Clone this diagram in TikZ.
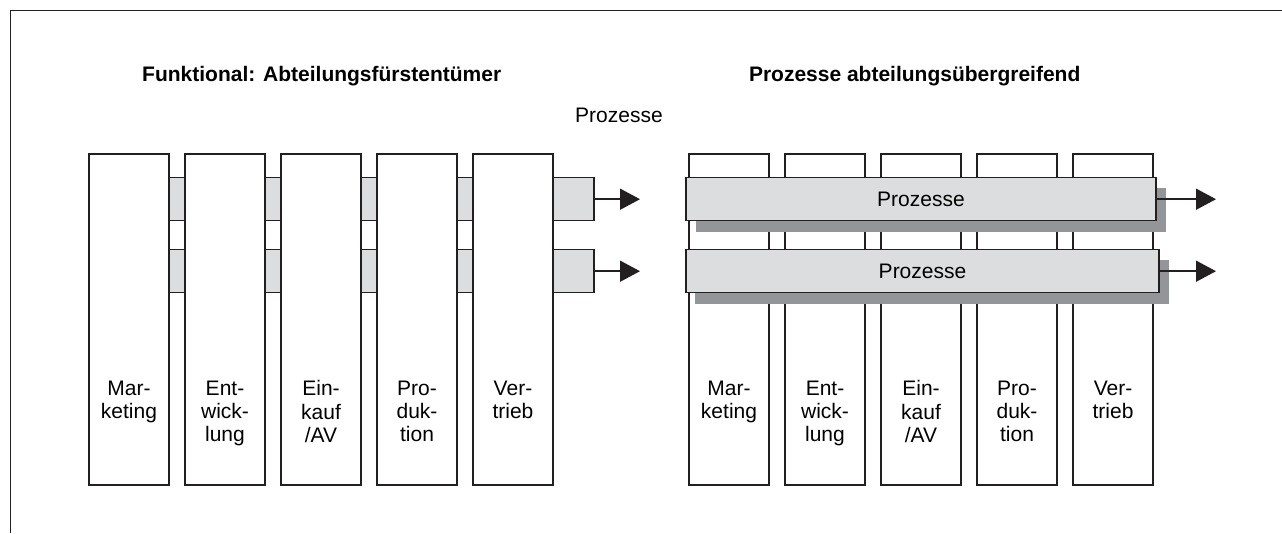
\documentclass[tikz,border=0pt]{standalone}
\usepackage{fontspec}
\setmainfont{Liberation Sans}
\usetikzlibrary{arrows.meta}
\definecolor{linedark}{RGB}{35,31,32}
\definecolor{barfill}{RGB}{220,221,223}
\definecolor{shadowgray}{RGB}{147,149,152}

\begin{document}
\begin{tikzpicture}[x=1pt,y=1pt,yscale=-1,xscale=1,
  dept/.style={draw=linedark, fill=white, line width=1.5pt, inner sep=0pt, minimum width=80pt, minimum height=331pt},
  deptlabel/.style={anchor=north, align=center, inner sep=0pt, font=\fontsize{21}{23.3}\selectfont},
  procbar/.style={draw=linedark, fill=barfill, line width=1.5pt, inner sep=0pt, minimum height=43pt, font=\fontsize{21}{25}\selectfont},
  flow/.style={draw=linedark, line width=1.5pt, -{Triangle[length=20pt,width=21pt]}},
  heading/.style={anchor=base, inner sep=0pt, font=\fontsize{21}{25}\selectfont\bfseries}]
\useasboundingbox (0,0) rectangle (1282,533);

%Frame
\draw [linedark, line width=1pt] (10.5,533) -- (10.5,10.5) -- (1282,10.5) ;

% Text Node
\node [heading] (hleft) at (321.7,81) {Funktional: Abteilungsfürstentümer};
% Text Node
\node [heading] (hright) at (914.7,81) {Prozesse abteilungsübergreifend};
% Text Node
\node [font=\fontsize{21}{25}\selectfont, inner sep=0pt] (hproc) at (619,115) {Prozesse};

%Left: process bars behind the departments
\node [procbar, minimum width=465pt] (lb1) at (361.5,199.2) {};
\node [procbar, minimum width=465pt] (lb2) at (361.5,271.2) {};
\coordinate (la1) at (640,199.2);
\coordinate (la2) at (640,271.2);
\draw [flow] (lb1.east) -- (la1) ;
\draw [flow] (lb2.east) -- (la2) ;

%Left: departments
\node [dept] (lm1) at (129,319.5) {};
\node [dept] (lm2) at (225,319.5) {};
\node [dept] (lm3) at (321,319.5) {};
\node [dept] (lm4) at (417,319.5) {};
\node [dept] (lm5) at (513,319.5) {};
\node [deptlabel] (lt1) at (129,380.5) {Mar-\\keting};
\node [deptlabel] (lt2) at (225,380.5) {Ent-\\wick-\\lung};
\node [deptlabel] (lt3) at (321,380.5) {Ein-\\kauf\\/AV};
\node [deptlabel] (lt4) at (417,380.5) {Pro-\\duk-\\tion};
\node [deptlabel] (lt5) at (513,380.5) {Ver-\\trieb};

%Right: departments
\node [dept] (rm1) at (729,319.5) {};
\node [dept] (rm2) at (825,319.5) {};
\node [dept] (rm3) at (921,319.5) {};
\node [dept] (rm4) at (1017,319.5) {};
\node [dept] (rm5) at (1113,319.5) {};
\node [deptlabel] (rt1) at (729,380.5) {Mar-\\keting};
\node [deptlabel] (rt2) at (825,380.5) {Ent-\\wick-\\lung};
\node [deptlabel] (rt3) at (921,380.5) {Ein-\\kauf\\/AV};
\node [deptlabel] (rt4) at (1017,380.5) {Pro-\\duk-\\tion};
\node [deptlabel] (rt5) at (1113,380.5) {Ver-\\trieb};

%Right: process bars across the departments
\coordinate (rs1) at (921,199.2);
\coordinate (rs2) at (922.5,271.2);
\fill [shadowgray] ([shift={(-225,-11.5)}]rs1) rectangle ([shift={(245,32.5)}]rs1) ;
\fill [shadowgray] ([shift={(-227.5,-11.5)}]rs2) rectangle ([shift={(246.5,32.5)}]rs2) ;
\node [procbar, minimum width=470pt] (rb1) at (rs1) {Prozesse};
\node [procbar, minimum width=473pt] (rb2) at (rs2) {Prozesse};
\coordinate (ra1) at (1216,199.2);
\coordinate (ra2) at (1216,271.2);
\draw [flow] (rb1.east) -- (ra1) ;
\draw [flow] (rb2.east) -- (ra2) ;

\end{tikzpicture}
\end{document}
